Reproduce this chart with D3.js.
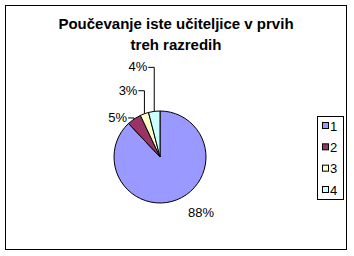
<!DOCTYPE html>
<html>
<head>
<meta charset="utf-8">
<script src="https://cdn.jsdelivr.net/npm/d3@7"></script>
<style>
  body { margin: 0; background: #fff; }
  text { font-family: "Liberation Sans", Arial, sans-serif; }
</style>
</head>
<body>
<script>
// chart data
const titleLines = ['Poučevanje iste učiteljice v prvih', 'treh razredih'];
const categories = ['1', '2', '3', '4'];
const values = [88, 5, 3, 4];
const colors = ['#9999FF', '#993366', '#FFFFCC', '#CCFFFF'];

const width = 354, height = 256;
const cx = 160, cy = 157, radius = 46;

const svg = d3.select('body').append('svg')
    .attr('width', width)
    .attr('height', height);

// outer frame
svg.append('rect')
    .attr('x', 5.5).attr('y', 5.5)
    .attr('width', 341).attr('height', 244)
    .attr('fill', '#fff')
    .attr('stroke', '#000')
    .attr('stroke-width', 1);

// title
svg.append('text')
    .attr('x', 176).attr('y', 29)
    .attr('text-anchor', 'middle')
    .attr('font-size', 15)
    .attr('font-weight', 'bold')
    .selectAll('tspan')
    .data(titleLines)
    .join('tspan')
    .attr('x', 176)
    .attr('dy', (d, i) => i === 0 ? 0 : 21)
    .text(d => d);

// pie
const pie = d3.pie().sort(null).value(d => d);
const arcs = pie(values);
const arc = d3.arc().innerRadius(0).outerRadius(radius);

const g = svg.append('g').attr('transform', `translate(${cx},${cy})`);

g.selectAll('path')
    .data(arcs)
    .join('path')
    .attr('d', arc)
    .attr('fill', (d, i) => colors[i])
    .attr('stroke', '#000')
    .attr('stroke-width', 1);

// labels: small slices get leader lines going up, big slice label below
const total = d3.sum(values);
const pct = v => Math.round(v / total * 100) + '%';
const rise = [0, 0, 21, 42]; // how far each leader line climbs above the slice edge

arcs.forEach((a, i) => {
    const mid = (a.startAngle + a.endAngle) / 2;
    const px = radius * Math.sin(mid);
    const py = -radius * Math.cos(mid);
    if (i === 0) {
        g.append('text')
            .attr('x', px + 11).attr('y', py + 17)
            .attr('font-size', 13)
            .text(pct(a.value));
        return;
    }
    const ly = py - rise[i] - (i === 1 ? 1 : 2);
    const pts = [[px, py], [px, ly], [px - 6, ly]];
    g.append('path')
        .attr('d', d3.line()(pts))
        .attr('fill', 'none')
        .attr('stroke', '#000')
        .attr('stroke-width', 1);
    g.append('text')
        .attr('x', px - 7).attr('y', ly + 4)
        .attr('text-anchor', 'end')
        .attr('font-size', 13)
        .text(pct(a.value));
});

// legend
const legend = svg.append('g');
legend.append('rect')
    .attr('x', 317.5).attr('y', 116.5)
    .attr('width', 26).attr('height', 83)
    .attr('fill', '#fff')
    .attr('stroke', '#000')
    .attr('stroke-width', 1);

const ly = d3.scalePoint().domain(categories).range([126, 190]);

legend.selectAll('rect.key')
    .data(categories)
    .join('rect')
    .attr('class', 'key')
    .attr('x', 322.5)
    .attr('y', d => ly(d) - 3.5)
    .attr('width', 6).attr('height', 6)
    .attr('fill', (d, i) => colors[i])
    .attr('stroke', '#000')
    .attr('stroke-width', 1);

legend.selectAll('text')
    .data(categories)
    .join('text')
    .attr('x', 330)
    .attr('y', d => ly(d) + 4.5)
    .attr('font-size', 13)
    .text(d => d);
</script>
</body>
</html>
